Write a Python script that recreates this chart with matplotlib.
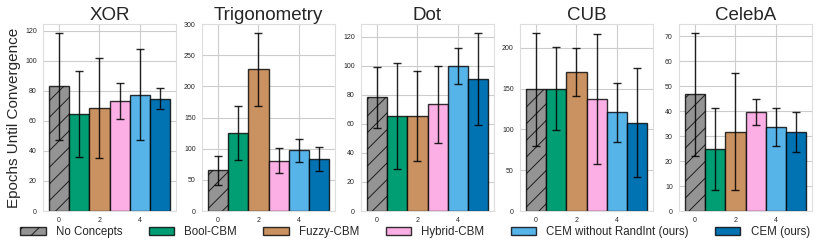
import matplotlib
matplotlib.use("Agg")
import matplotlib.pyplot as plt
import seaborn as sns
from matplotlib.patches import Patch

sns.set_style("whitegrid")
plt.rcParams['font.family'] = ['Liberation Sans', 'DejaVu Sans']

datasets = ["XOR", "Trigonometry", "Dot", "CUB", "CelebA"]
methods = ["No Concepts", "Bool-CBM", "Fuzzy-CBM", "Hybrid-CBM", "CEM without RandInt (ours)", "CEM (ours)"]
colors = ["#949494", "#029e73", "#ca9161", "#fbafe4", "#56b4e9", "#0173b2"]
hatches = ["//", "", "", "", "", ""]

means_xor = [83.0, 64.3, 68.6, 73.3, 77.4, 74.7]
errs_xor = [35.6, 28.6, 33.1, 12.2, 30.3, 6.9]
means_trig = [65.5, 124.8, 227.7, 81.0, 97.5, 83.0]
errs_trig = [23.0, 43.7, 58.3, 20.3, 18.2, 19.5]
means_dot = [78.2, 65.5, 65.6, 73.4, 100.0, 90.9]
errs_dot = [21.1, 36.5, 31.0, 26.6, 12.4, 31.6]
means_cub = [149.3, 150.1, 170.1, 137.8, 121.1, 108.0]
errs_cub = [69.1, 51.1, 29.2, 79.6, 36.4, 66.9]
means_celeba = [46.7, 24.8, 31.7, 39.6, 33.5, 31.6]
errs_celeba = [24.6, 16.3, 23.4, 5.1, 7.6, 7.9]

all_means = [means_xor, means_trig, means_dot, means_cub, means_celeba]
all_errs = [errs_xor, errs_trig, errs_dot, errs_cub, errs_celeba]

fig = plt.figure(figsize=(8.3, 2.48), dpi=100)
W, H = 830, 248
lefts = [43, 202, 361, 520, 679]
aw = 133
top, bottom = 24, 211

plt.rcParams['hatch.color'] = '#222222'
plt.rcParams['hatch.linewidth'] = 0.7

for i, name in enumerate(datasets):
    ax = fig.add_axes([lefts[i] / W, 1 - bottom / H, aw / W, (bottom - top) / H])
    x = list(range(len(methods)))
    ax.bar(x, all_means[i], width=1.0, color=colors, edgecolor=(0, 0, 0, 0.8),
           linewidth=1.0)
    for j, p in enumerate(ax.patches):
        p.set_hatch(hatches[j])
    ax.errorbar(x, all_means[i], yerr=all_errs[i], fmt='none', ecolor='black',
                elinewidth=1.0, capsize=3, capthick=1.0, alpha=0.85)
    ax.set_title(name, fontsize=13.5, pad=3)
    ax.set_xticks([0, 2, 4])
    ax.tick_params(axis='both', labelsize=5, pad=1)
    for s in ax.spines.values():
        s.set_color('#dddddd')
    if i == 0:
        ax.set_ylabel("Epochs Until Convergence", fontsize=11, labelpad=3)

handles = [Patch(facecolor=colors[k], edgecolor=(0, 0, 0, 0.8), hatch=hatches[k], label=methods[k])
           for k in range(len(methods))]
fig.legend(handles=handles, loc='center', bbox_to_anchor=(0.5, 1 - 232 / H), ncol=6,
           frameon=False, handlelength=2.2, handleheight=0.75, columnspacing=2.3,
           handletextpad=0.87, fontsize=8.3)

fig.savefig("out.png", dpi=100)
